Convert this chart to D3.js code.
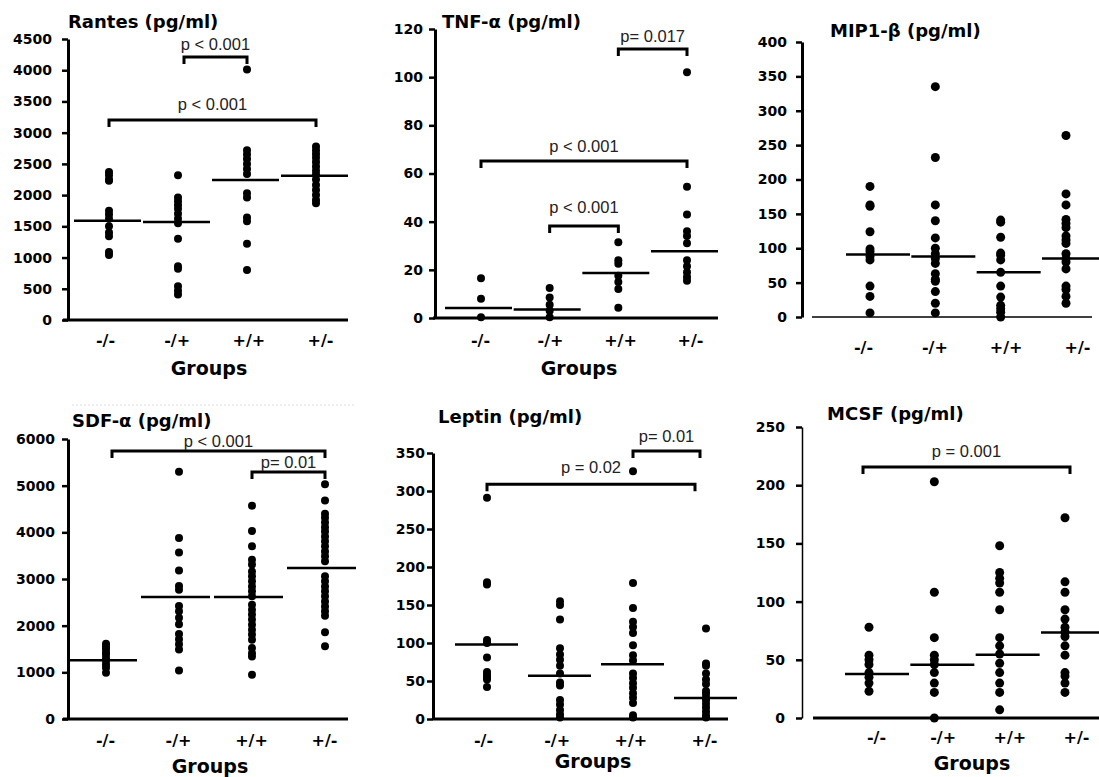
<!DOCTYPE html>
<html>
<head>
<meta charset="utf-8">
<script src="https://cdn.jsdelivr.net/npm/d3@7"></script>
<style>
body { margin: 0; background: #fff; }
</style>
</head>
<body>
<svg id="chart" width="1099" height="777"></svg>
<script>
// groups on the x axis of every panel
var groups = ['-/-', '-/+', '+/+', '+/-']

// Rantes
var rantesValues = [
  [2370, 2320, 2250, 2230, 1750, 1690, 1620, 1500, 1400, 1340, 1090, 1040],
  [2320, 1960, 1900, 1840, 1780, 1700, 1620, 1550, 1300, 860, 820, 540, 470, 410],
  [4010, 2720, 2650, 2580, 2500, 2420, 2340, 2030, 1960, 1640, 1580, 1220, 800],
  [2780, 2720, 2660, 2600, 2530, 2460, 2390, 2330, 2250, 2160, 2080, 2000, 1920, 1870]
]
var rantesMedians = [1590, 1570, 2240, 2310]
var rantesTicks = [0, 500, 1000, 1500, 2000, 2500, 3000, 3500, 4000, 4500]
var rantesBrackets = [['-/+', '+/+', 4212, 'p < 0.001'], ['-/-', '+/-', 3202, 'p < 0.001']]

// TNF-a
var tnfValues = [
  [16.5, 8, 0.3],
  [12.5, 8.5, 5.5, 3, 0.3],
  [31.5, 24, 22.5, 17.5, 15, 12, 4.3],
  [102, 54.5, 43, 36, 34, 31, 24, 21.5, 19, 17, 15.5]
]
var tnfMedians = [4.2, 3.5, 18.7, 27.7]
var tnfTicks = [0, 20, 40, 60, 80, 100, 120]
var tnfBrackets = [['+/+', '+/-', 111.7, 'p= 0.017'], ['-/-', '+/-', 65.2, 'p < 0.001'], ['-/+', '+/+', 38.2, 'p < 0.001']]

// MIP1-b
var mipValues = [
  [190, 163, 161, 124, 99, 95, 88, 83, 45, 30, 6],
  [335, 232, 163, 140, 115, 100, 92, 85, 78, 63, 55, 52, 37, 20, 6],
  [141, 138, 116, 93, 90, 83, 65, 45, 29, 17, 12, 7, 0],
  [264, 179, 163, 142, 136, 130, 118, 112, 107, 92, 85, 80, 70, 45, 40, 30, 20]
]
var mipMedians = [91, 88, 65, 85]
var mipTicks = [0, 50, 100, 150, 200, 250, 300, 350, 400]
var mipBrackets = []

// SDF-a
var sdfValues = [
  [1610, 1560, 1500, 1430, 1380, 1300, 1250, 1170, 1100, 990],
  [5300, 3880, 3570, 3180, 2850, 2770, 2420, 2310, 2170, 2030, 1820, 1710, 1600, 1490, 1040],
  [4570, 4030, 3700, 3410, 3310, 3160, 3060, 2950, 2840, 2740, 2630, 2450, 2340, 2240, 2130, 2020, 1910, 1810, 1700, 1520, 1410, 1340, 950],
  [5030, 4680, 4400, 4310, 4210, 4110, 4020, 3910, 3810, 3700, 3590, 3490, 3380, 3060, 2950, 2840, 2740, 2630, 2520, 2410, 2310, 2210, 1860, 1560]
]
var sdfMedians = [1257, 2614, 2614, 3236]
var sdfTicks = [0, 1000, 2000, 3000, 4000, 5000, 6000]
var sdfBrackets = [['-/-', '+/-', 5743, 'p < 0.001'], ['+/+', '+/-', 5293, 'p= 0.01']]

// Leptin
var leptinValues = [
  [291, 180, 177, 104, 100, 81, 62, 58, 55, 52, 42],
  [155, 150, 131, 93, 85, 78, 70, 60, 48, 44, 25, 19, 12, 6, 2],
  [326, 179, 146, 128, 121, 113, 97, 84, 77, 60, 54, 47, 41, 34, 28, 21, 5, 2],
  [119, 73, 70, 60, 52, 46, 37, 33, 28, 25, 20, 15, 10, 5, 2]
]
var leptinMedians = [98, 57, 72, 27.5]
var leptinTicks = [0, 50, 100, 150, 200, 250, 300, 350]
var leptinBrackets = [['-/-', '+/-', 309, 'p = 0.02'], ['+/+', '+/-', 352.6, 'p= 0.01']]

// MCSF
var mcsfValues = [
  [78, 54, 50, 46, 39, 35, 30, 23],
  [203, 108, 69, 54, 50, 46, 39, 30, 22, 0],
  [148, 125, 120, 116, 108, 93, 69, 62, 55, 47, 39, 30, 22, 7],
  [172, 117, 108, 93, 85, 78, 74, 70, 62, 54, 39, 36, 30, 22]
]
var mcsfMedians = [37.7, 45.7, 54.3, 73.4]
var mcsfTicks = [0, 50, 100, 150, 200, 250]
var mcsfBrackets = [['-/-', '+/-', 215.6, 'p = 0.001']]

var boldFont = '"DejaVu Sans", sans-serif'
var pFont = '"Liberation Sans", Arial, sans-serif'

// panel layout (pixels)
var panels = [
  {title: 'Rantes (pg/ml)', values: rantesValues, medians: rantesMedians, ticks: rantesTicks, brackets: rantesBrackets,
   axisX: 68, top: 39, bottom: 320, dots: [109, 316], labels: [105, 320], base: [63, 348], baseW: 3, yW: 3,
   labelPad: 15, tickPad: 10, med: [-35, 32], titlePos: [68, 28], groupsPos: [209, 375], r: 4,
   bracketDy: [-7, -10], nudge: [[6, 0], [0, 0]]},
  {title: 'TNF-\u03b1 (pg/ml)', values: tnfValues, medians: tnfMedians, ticks: tnfTicks, brackets: tnfBrackets,
   axisX: 435, top: 29, bottom: 318, dots: [481, 687], labels: [480, 690], base: [433, 718], baseW: 3, yW: 3,
   labelPad: 17, tickPad: 6, med: [-36, 31], titlePos: [442, 28], groupsPos: [579, 375], r: 4,
   bracketDy: [-7, -9, -13], nudge: [[0, 0], [0, 0], [0, 0]]},
  {title: 'MIP1-\u03b2 (pg/ml)', values: mipValues, medians: mipMedians, ticks: mipTicks, brackets: mipBrackets,
   axisX: 802, top: 42, bottom: 317, dots: [870, 1066], labels: [863, 1077], base: [812, 1092], baseW: 1.5, yW: 3,
   labelPad: 25, tickPad: 9, med: [-24, 40], titlePos: [830, 37], groupsPos: null, r: 4.5,
   bracketDy: [], nudge: []},
  {title: 'SDF-\u03b1 (pg/ml)', values: sdfValues, medians: sdfMedians, ticks: sdfTicks, brackets: sdfBrackets,
   axisX: 68, top: 439, bottom: 719, dots: [106, 325], labels: [105, 324], base: [63, 348], baseW: 3, yW: 3,
   labelPad: 16, tickPad: 7, med: [-38, 31], titlePos: [72, 427], groupsPos: [210, 773], r: 4,
   bracketDy: [-4, -4], nudge: [[6, 0], [0, 0]]},
  {title: 'Leptin (pg/ml)', values: leptinValues, medians: leptinMedians, ticks: leptinTicks, brackets: leptinBrackets,
   axisX: 433, top: 453, bottom: 719, dots: [487, 706], labels: [483, 704], base: [433, 728], baseW: 3, yW: 3,
   labelPad: 16, tickPad: 2, med: [-32, 31], titlePos: [438, 423], groupsPos: [593, 768], r: 4,
   bracketDy: [-11, -9], nudge: [[0, -11], [0, -6]]},
  {title: 'MCSF (pg/ml)', values: mcsfValues, medians: mcsfMedians, ticks: mcsfTicks, brackets: mcsfBrackets,
   axisX: 802, top: 427, bottom: 718, dots: [869, 1065], labels: [876, 1076], base: [813, 1099], baseW: 3, yW: 1.5,
   labelPad: 14, tickPad: 11, med: [-24, 40], titlePos: [827, 420], groupsPos: [972, 770], r: 4.5,
   bracketDy: [-10], nudge: [[-6, 5]]}
]

var svg = d3.select('#chart')

// faint dotted rule above the SDF panel, as in the source figure
svg.append('line').attr('x1', 72).attr('x2', 355).attr('y1', 405).attr('y2', 405)
  .attr('stroke', '#ddd').attr('stroke-width', 1).attr('stroke-dasharray', '2,2')

var drawPanel = function (p) {
  var g = svg.append('g')
  var maxTick = p.ticks[p.ticks.length - 1]
  var y = d3.scaleLinear().domain([0, maxTick]).range([p.bottom, p.top])
  var x = d3.scalePoint().domain(groups).range(p.dots)
  var xl = d3.scalePoint().domain(groups).range(p.labels)

  // x baseline
  g.append('line').attr('x1', p.base[0]).attr('x2', p.base[1])
    .attr('y1', y(0)).attr('y2', y(0))
    .attr('stroke', '#000').attr('stroke-width', p.baseW)

  // y axis
  var ya = g.append('g').attr('transform', 'translate(' + p.axisX + ',0)')
    .call(d3.axisLeft(y).tickValues(p.ticks).tickFormat(d3.format('d'))
      .tickSize(6).tickSizeOuter(0).tickPadding(p.tickPad))
  ya.select('.domain').attr('stroke-width', p.yW)
  ya.selectAll('.tick line').attr('stroke-width', 2.5)
  ya.selectAll('.tick text').attr('font-family', boldFont)
    .attr('font-weight', 'bold').attr('font-size', 14).attr('fill', '#000')

  // group labels
  var xa = g.append('g').attr('transform', 'translate(0,' + y(0) + ')')
    .call(d3.axisBottom(xl).tickSize(0).tickPadding(p.labelPad))
  xa.select('.domain').remove()
  xa.selectAll('.tick text').attr('font-family', boldFont)
    .attr('font-weight', 'bold').attr('font-size', 16).attr('fill', '#000')

  // dots
  groups.forEach(function (grp, i) {
    g.selectAll(null).data(p.values[i]).enter().append('circle')
      .attr('cx', x(grp)).attr('cy', function (d) { return y(d) })
      .attr('r', p.r).attr('fill', '#000')
  })

  // median lines
  g.selectAll(null).data(p.medians).enter().append('line')
    .attr('x1', function (d, i) { return x(groups[i]) + p.med[0] })
    .attr('x2', function (d, i) { return x(groups[i]) + p.med[1] })
    .attr('y1', function (d) { return y(d) })
    .attr('y2', function (d) { return y(d) })
    .attr('stroke', '#000').attr('stroke-width', 2.5)

  // significance brackets
  p.brackets.forEach(function (b, i) {
    var x1 = x(b[0]) + p.nudge[i][0]
    var x2 = x(b[1]) + p.nudge[i][1]
    var yy = y(b[2])
    g.append('path')
      .attr('d', 'M' + x1 + ',' + (yy + 7) + 'V' + yy + 'H' + x2 + 'V' + (yy + 7))
      .attr('fill', 'none').attr('stroke', '#000').attr('stroke-width', 3)
    g.append('text').attr('x', (x1 + x2) / 2).attr('y', yy + p.bracketDy[i])
      .attr('text-anchor', 'middle')
      .attr('font-family', pFont)
      .attr('font-size', 16.5).attr('fill', '#222')
      .text(b[3])
  })

  // title
  g.append('text').attr('x', p.titlePos[0]).attr('y', p.titlePos[1])
    .attr('font-family', boldFont)
    .attr('font-weight', 'bold').attr('font-size', 18).attr('fill', '#000')
    .text(p.title)

  if (p.groupsPos) {
    g.append('text').attr('x', p.groupsPos[0]).attr('y', p.groupsPos[1])
      .attr('text-anchor', 'middle').attr('font-family', boldFont)
      .attr('font-weight', 'bold').attr('font-size', 19).attr('fill', '#000')
      .text('Groups')
  }
}

panels.forEach(drawPanel)
</script>
</body>
</html>
